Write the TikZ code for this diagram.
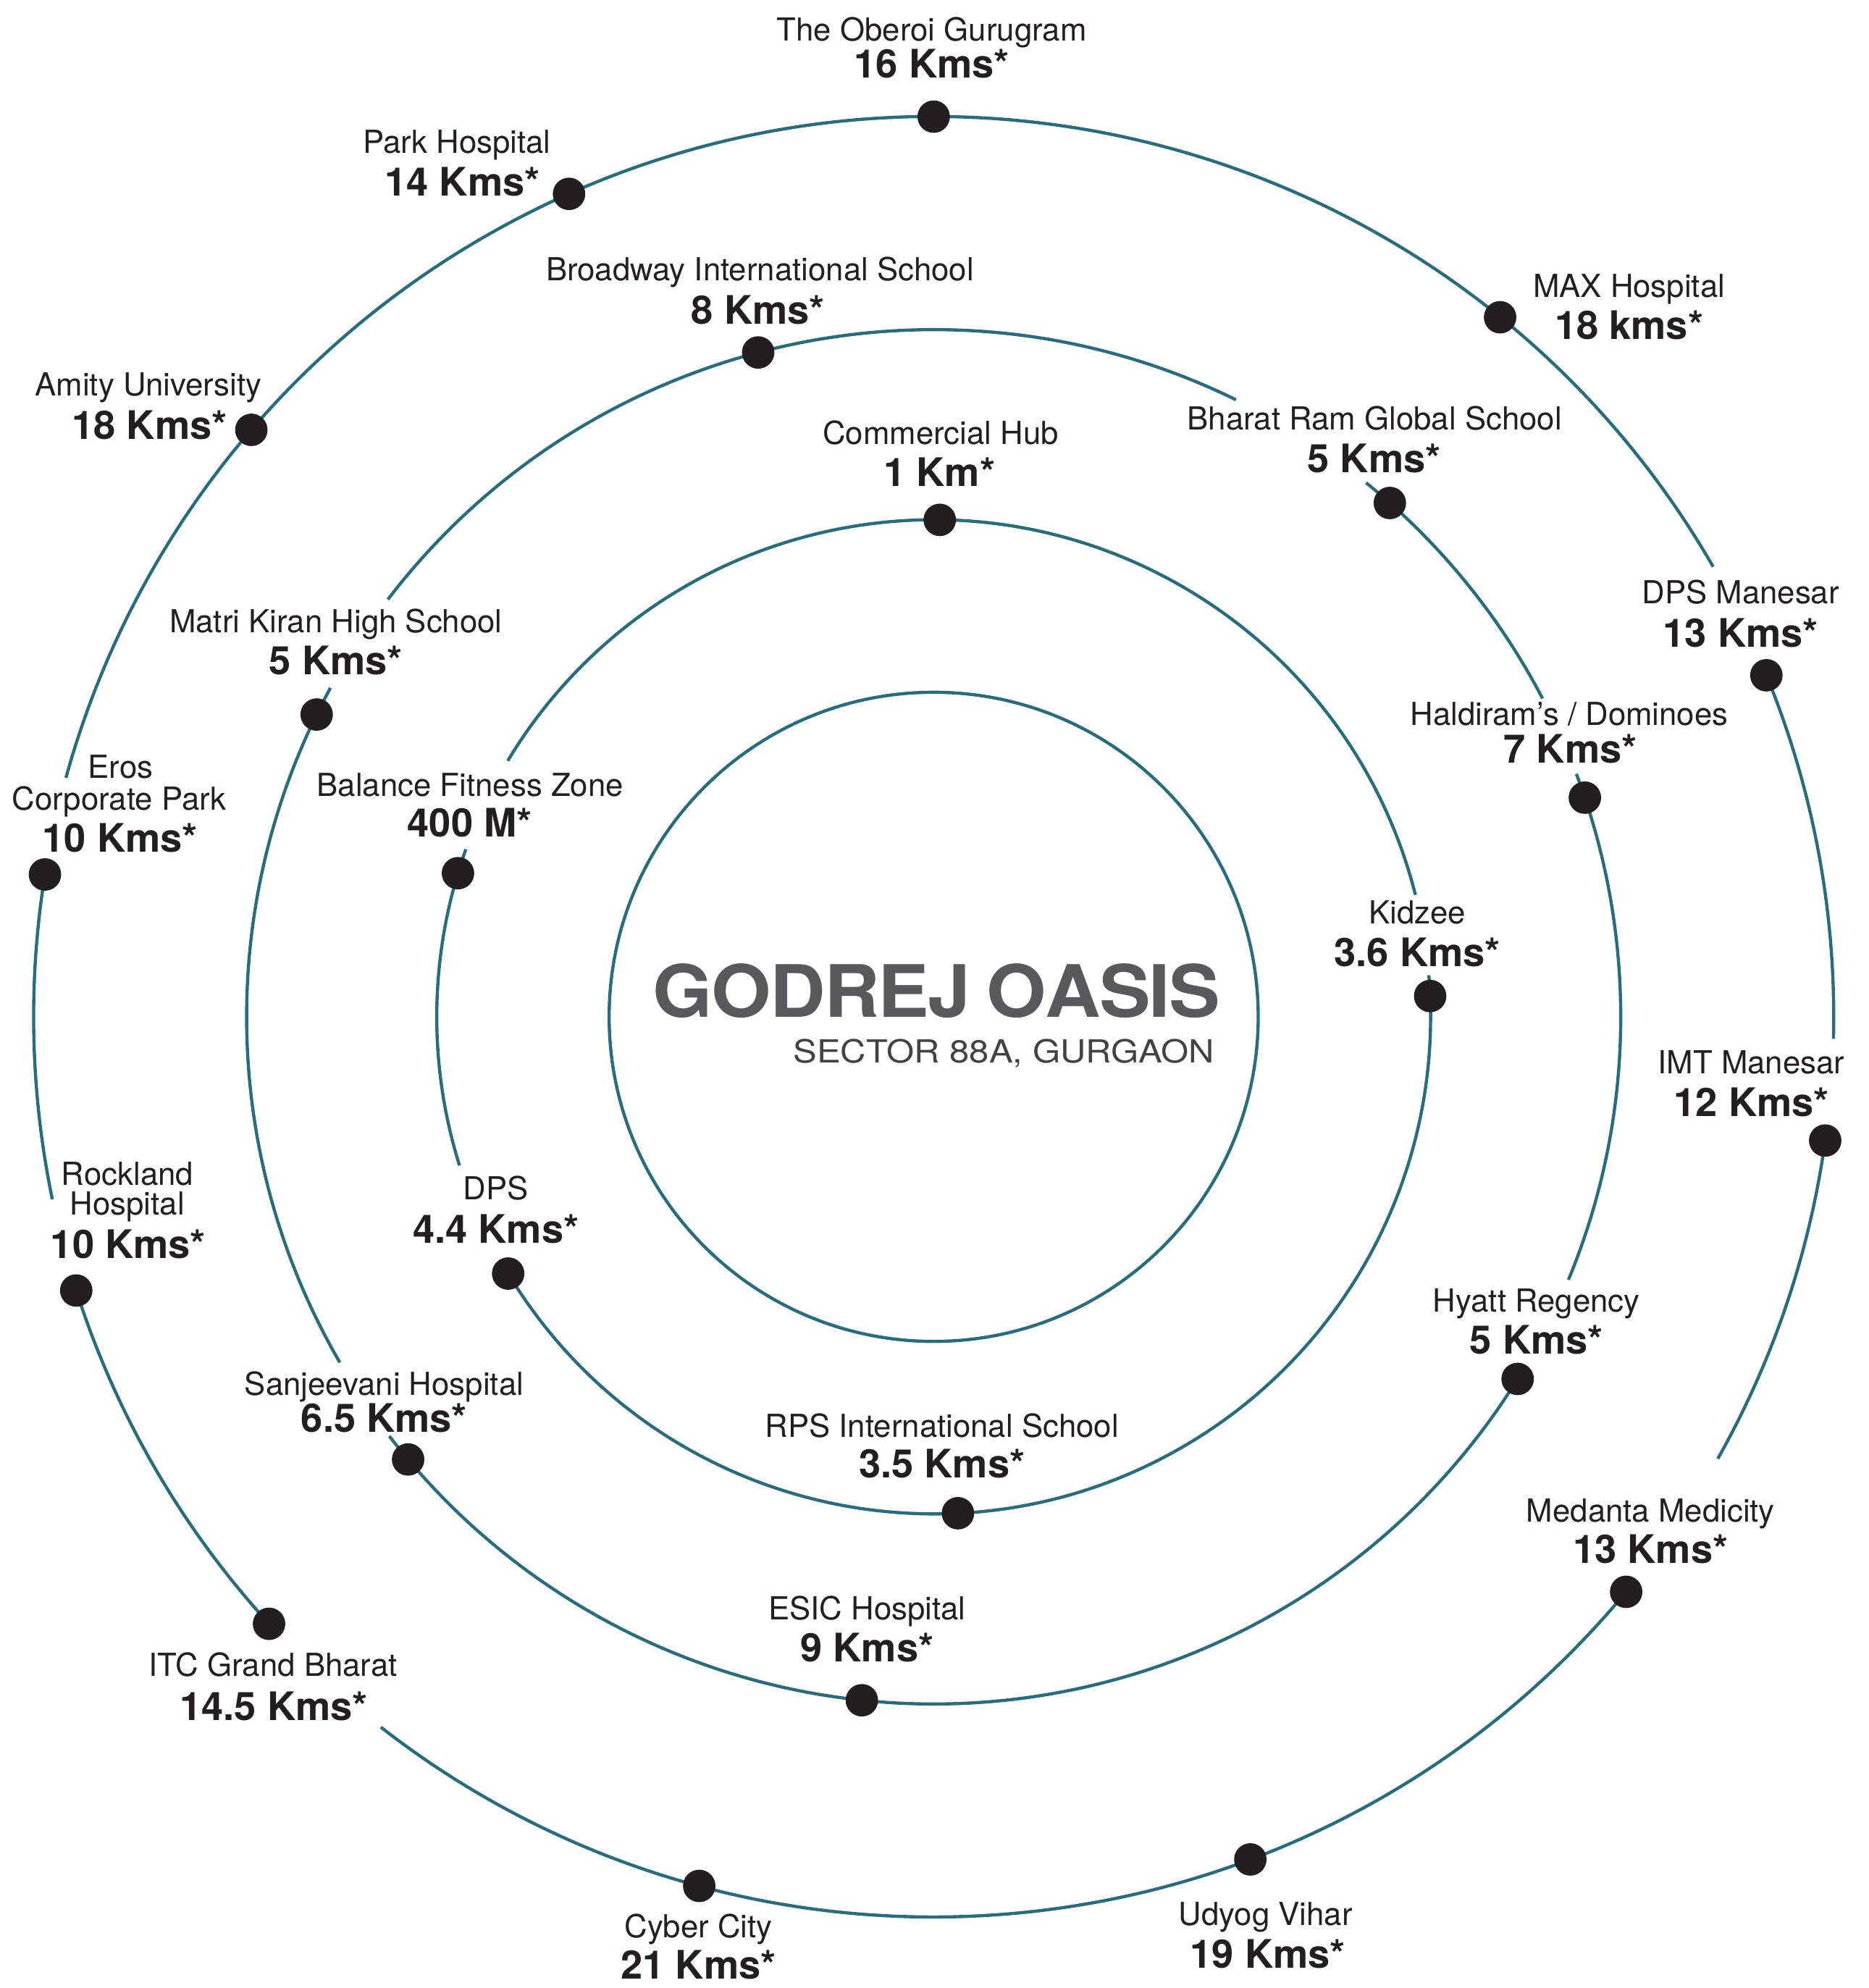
\documentclass[tikz,border=0pt]{standalone}
\usepackage{fontspec}
\setmainfont{TeX Gyre Heros}
\definecolor{ringcol}{HTML}{286C7E}
\definecolor{dotcol}{HTML}{231F20}
\definecolor{txtcol}{HTML}{231F20}
\definecolor{titlecol}{HTML}{58595B}
\begin{document}
\begin{tikzpicture}[x=1pt,y=1pt,
  ringline/.style={draw=ringcol, line width=2.5pt},
  dot/.style={circle, fill=dotcol, minimum size=25.6pt, inner sep=0pt},
  nm/.style={anchor=base, inner sep=0pt, text=txtcol, font=\fontsize{25}{30}\selectfont},
  km/.style={anchor=base, inner sep=0pt, text=txtcol, font=\fontsize{31}{36}\selectfont\bfseries}]
\useasboundingbox (0,0) rectangle (1474,-1568);
\coordinate (C) at (736.5,-802);
\begin{scope}[shift={(C)}]
  % inner circle
  \draw[ringline] (0,0) circle[radius=256pt];
  % ring 1
  \draw[ringline] (14.2:392) arc[start angle=14.2, end angle=149, radius=392pt];
  \draw[ringline] (160.3:392) arc[start angle=160.3, end angle=197.4, radius=392pt];
  \draw[ringline] (211.1:392) arc[start angle=211.1, end angle=364.8, radius=392pt];
  % ring 2
  \draw[ringline] (-22.5:542) arc[start angle=-22.5, end angle=20.7, radius=542pt];
  \draw[ringline] (27.6:542) arc[start angle=27.6, end angle=51, radius=542pt];
  \draw[ringline] (63.9:542) arc[start angle=63.9, end angle=142.6, radius=542pt];
  \draw[ringline] (151.4:542) arc[start angle=151.4, end angle=210.2, radius=542pt];
  \draw[ringline] (217.6:542) arc[start angle=217.6, end angle=328.2, radius=542pt];
  % outer ring
  \draw[ringline] (30:710) arc[start angle=30, end angle=164.6, radius=710pt];
  \draw[ringline] (170.9:710) arc[start angle=170.9, end angle=191.7, radius=710pt];
  \draw[ringline] (197.7:710) arc[start angle=197.7, end angle=222.4, radius=710pt];
  \draw[ringline] (232.1:710) arc[start angle=232.1, end angle=320.3, radius=710pt];
  \draw[ringline] (330.6:710) arc[start angle=330.6, end angle=352.1, radius=710pt];
  \draw[ringline] (358.6:710) arc[start angle=358.6, end angle=382.3, radius=710pt];
  % dots ring 1
  \node[dot] (commercial) at (89.3:392) {};
  \node[dot] (kidzee) at (2.4:392) {};
  \node[dot] (rps) at (272.8:392) {};
  \node[dot] (dps) at (211.1:392) {};
  \node[dot] (balance) at (163.2:392) {};
  % dots ring 2
  \node[dot] (broadway) at (104.8:542) {};
  \node[dot] (bharat) at (48.4:542) {};
  \node[dot] (haldiram) at (18.6:542) {};
  \node[dot] (hyatt) at (-31.8:542) {};
  \node[dot] (esic) at (264:542) {};
  \node[dot] (sanjeevani) at (220.1:542) {};
  \node[dot] (matri) at (153.9:542) {};
  % dots outer ring
  \node[dot] (oberoi) at (90:710) {};
  \node[dot] (park) at (113.9:710) {};
  \node[dot] (amity) at (139.3:710) {};
  \node[dot] (eros) at (170.9:710) {};
  \node[dot] (rockland) at (197.7:710) {};
  \node[dot] (itc) at (222.4:710) {};
  \node[dot] (cyber) at (254.9:710) {};
  \node[dot] (udyog) at (290.6:710) {};
  \node[dot] (medanta) at (320.3:710) {};
  \node[dot] (imt) at (352.1:710) {};
  \node[dot] (dpsm) at (22.3:710) {};
  \node[dot] (max) at (51:710) {};
\end{scope}
% title
\node[anchor=base west, inner sep=0pt, text=titlecol] (title) at (515,-802)
  {\scalebox{1.063}[1]{\fontsize{57}{57}\selectfont\bfseries G\kern-1ptO\kern-1ptD\kern-1ptR\kern-1ptE\kern-1ptJ\kern-4pt\ O\kern-1ptA\kern-1ptS\kern-1ptI\kern-1ptS}};
\node[anchor=base east, inner sep=0pt, text=txtcol!85] (subtitle) at (958,-838.5)
  {\scalebox{1.12}[1]{\fontsize{25}{30}\selectfont SECTOR 88A, GURGAON}};
% labels
\node[nm] (oberoiN) at (735,-32) {The Oberoi Gurugram};
\node[km] (oberoiK) at (735,-61.3) {16 Kms*};
\node[nm] (parkN) at (360.4,-121) {Park Hospital};
\node[km] (parkK) at (364.7,-154.6) {14 Kms*};
\node[nm] (broadwayN) at (599.5,-221.5) {Broadway International School};
\node[km] (broadwayK) at (598,-255.8) {8 Kms*};
\node[nm] (maxN) at (1285,-234.5) {MAX Hospital};
\node[km] (maxK) at (1285,-267.8) {18 kms*};
\node[nm] (amityN) at (117.1,-312.2) {Amity University};
\node[km] (amityK) at (118,-346.5) {18 Kms*};
\node[nm] (commercialN) at (742,-350.5) {Commercial Hub};
\node[km] (commercialK) at (741,-383.8) {1 Km*};
\node[nm] (bharatN) at (1084.3,-339) {Bharat Ram Global School};
\node[km] (bharatK) at (1084,-373) {5 Kms*};
\node[nm] (dpsmN) at (1373,-476.3) {DPS Manesar};
\node[km] (dpsmK) at (1373,-510.2) {13 Kms*};
\node[nm] (matriN) at (265,-498.8) {Matri Kiran High School};
\node[km] (matriK) at (264.9,-532.1) {5 Kms*};
\node[nm] (haldiramN) at (1237.8,-571.9) {Haldiram’s / Dominoes};
\node[km] (haldiramK) at (1238.8,-601.9) {7 Kms*};
\node[nm] (balanceN) at (370.9,-627.8) {Balance Fitness Zone};
\node[km] (balanceK) at (370.5,-660.2) {400 M*};
\node[nm] (erosN) at (95,-613.9) {Eros};
\node[nm] (erosN2) at (94,-638.7) {Corporate Park};
\node[km] (erosK) at (94.7,-672.1) {10 Kms*};
\node[nm] (kidzeeN) at (1118,-728.7) {Kidzee};
\node[km] (kidzeeK) at (1118,-762.4) {3.6 Kms*};
\node[nm] (imtN) at (1381.4,-847) {IMT Manesar};
\node[km] (imtK) at (1381.7,-880.5) {12 Kms*};
\node[nm] (rocklandN) at (100.5,-935) {Rockland};
\node[nm] (rocklandN2) at (100.4,-958.3) {Hospital};
\node[km] (rocklandK) at (101.1,-992.3) {10 Kms*};
\node[nm] (dpsN) at (391,-946.1) {DPS};
\node[km] (dpsK) at (391.2,-980.4) {4.4 Kms*};
\node[nm] (hyattN) at (1212,-1034.5) {Hyatt Regency};
\node[km] (hyattK) at (1212,-1067.8) {5 Kms*};
\node[nm] (sanjeevaniN) at (303,-1100.7) {Sanjeevani Hospital};
\node[km] (sanjeevaniK) at (303,-1129.8) {6.5 Kms*};
\node[nm] (rpsN) at (743,-1133.5) {RPS International School};
\node[km] (rpsK) at (743,-1165.8) {3.5 Kms*};
\node[nm] (medantaN) at (1302,-1200.5) {Medanta Medicity};
\node[km] (medantaK) at (1302,-1232.8) {13 Kms*};
\node[nm] (esicN) at (684,-1277.5) {ESIC Hospital};
\node[km] (esicK) at (684,-1310.8) {9 Kms*};
\node[nm] (itcN) at (215.5,-1322.1) {ITC Grand Bharat};
\node[km] (itcK) at (216,-1356.8) {14.5 Kms*};
\node[nm] (cyberN) at (551,-1528.3) {Cyber City};
\node[km] (cyberK) at (551,-1561) {21 Kms*};
\node[nm] (udyogN) at (998.4,-1518.8) {Udyog Vihar};
\node[km] (udyogK) at (1000,-1552.4) {19 Kms*};
\end{tikzpicture}
\end{document}
